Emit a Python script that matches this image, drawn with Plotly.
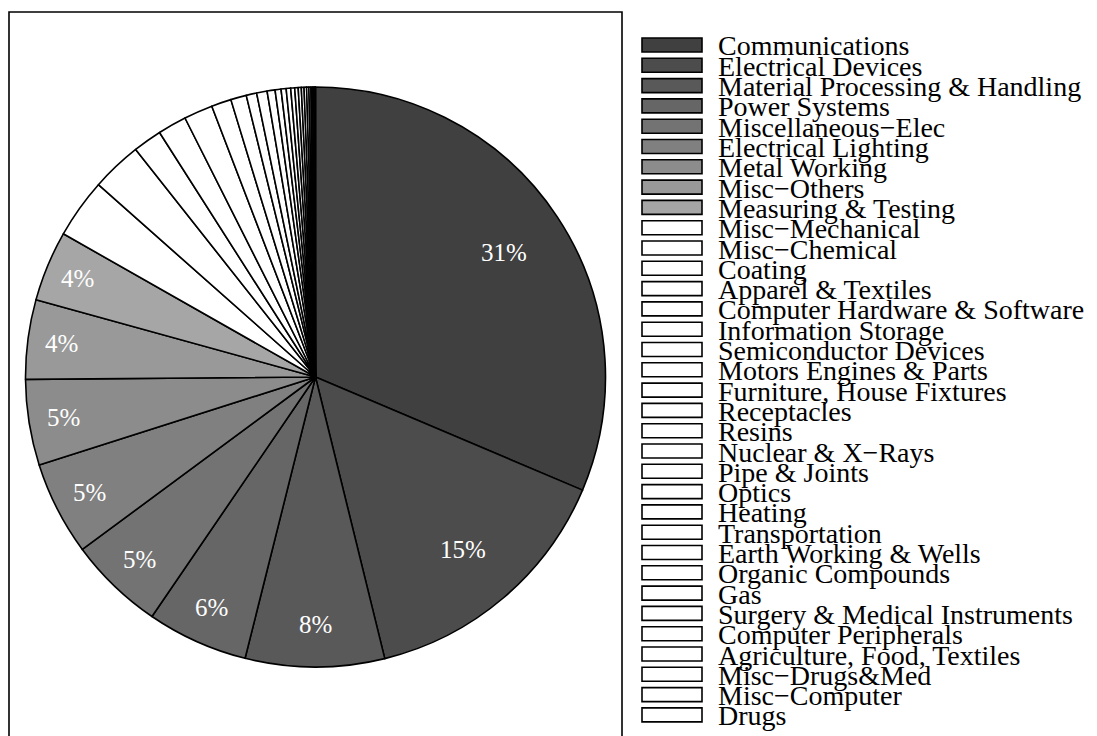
import math
import plotly.graph_objects as go

categories = [
    "Communications", "Electrical Devices", "Material Processing & Handling",
    "Power Systems", "Miscellaneous\u2212Elec", "Electrical Lighting",
    "Metal Working", "Misc\u2212Others", "Measuring & Testing",
    "Misc\u2212Mechanical", "Misc\u2212Chemical", "Coating", "Apparel & Textiles",
    "Computer Hardware & Software", "Information Storage",
    "Semiconductor Devices", "Motors Engines & Parts",
    "Furniture, House Fixtures", "Receptacles", "Resins", "Nuclear & X\u2212Rays",
    "Pipe & Joints", "Optics", "Heating", "Transportation",
    "Earth Working & Wells", "Organic Compounds", "Gas",
    "Surgery & Medical Instruments", "Computer Peripherals",
    "Agriculture, Food, Textiles", "Misc\u2212Drugs&Med", "Misc\u2212Computer", "Drugs",
]
shares = [
    31.2, 14.7, 7.7, 5.6, 5.3, 5.2, 4.75, 4.4, 3.9,
    3.3, 2.8, 1.6, 1.6, 1.6, 1.1, 0.87, 0.58, 0.58,
    0.44, 0.33, 0.28, 0.25, 0.22, 0.19, 0.17, 0.15,
    0.14, 0.125, 0.11, 0.083, 0.07, 0.056, 0.028, 0.014,
]
gray_levels = [0.25, 0.30, 0.35, 0.40, 0.45, 0.50, 0.55, 0.60, 0.65]
n_labelled = len(gray_levels)

def gray(v):
    c = int(round(v * 255))
    return f"rgb({c},{c},{c})"

colors = [gray(v) for v in gray_levels] + ["white"] * (len(categories) - n_labelled)

W, H = 1097, 736
FONT = "Liberation Serif"
OFF = 8  # page body margin
cx, cy, r = 315.5 - OFF, 377 - OFF, 290

fig = go.Figure(go.Pie(
    labels=categories, values=shares, sort=False, direction="clockwise",
    rotation=0, marker=dict(colors=colors, line=dict(color="black", width=1.6)),
    textinfo="none",
    domain=dict(x=[(cx - r) / W, (cx + r) / W],
                y=[(H - cy - r) / H, (H - cy + r) / H]),
    showlegend=False, hoverinfo="label+percent",
))

annotations = []
total = sum(shares)
cum = 0.0
for i, v in enumerate(shares):
    width_deg = 360 * v / total
    mid = math.radians(360 * (cum + v / 2) / total)
    cum += v
    if i >= n_labelled:
        continue
    frac = 0.78 + 0.11 * (1 - min(1.0, max(0.0, (width_deg - 14) / 40)))
    px = cx + frac * r * math.sin(mid)
    py = cy - frac * r * math.cos(mid)
    annotations.append(dict(xref="paper", yref="paper", x=px / W, y=1 - py / H,
                            text=f"{round(100 * v / total)}%", showarrow=False,
                            xanchor="center", yanchor="middle",
                            font=dict(family=FONT, size=25, color="white")))

shapes = [dict(type="rect", xref="paper", yref="paper",
               x0=1 / W, x1=(622 - OFF) / W, y0=-10 / H, y1=1 - (12 - OFF) / H,
               line=dict(color="black", width=1.6), fillcolor="rgba(0,0,0,0)")]
row0, pitch = 45 - OFF, 20.3
for i, (name, col) in enumerate(zip(categories, colors)):
    yc = row0 + i * pitch
    shapes.append(dict(type="rect", xref="paper", yref="paper",
                       x0=(642 - OFF) / W, x1=(702 - OFF) / W,
                       y0=1 - (yc + 7) / H, y1=1 - (yc - 7) / H,
                       line=dict(color="black", width=1.6), fillcolor=col))
    annotations.append(dict(xref="paper", yref="paper", x=(716 - OFF) / W,
                            y=1 - (yc + 1) / H, text=name, showarrow=False,
                            xanchor="left", yanchor="middle",
                            font=dict(family=FONT, size=28, color="black")))

fig.update_layout(width=W, height=H, margin=dict(l=0, r=0, t=0, b=0),
                  paper_bgcolor="white", plot_bgcolor="white",
                  shapes=shapes, annotations=annotations)
fig.write_html("out.html")
